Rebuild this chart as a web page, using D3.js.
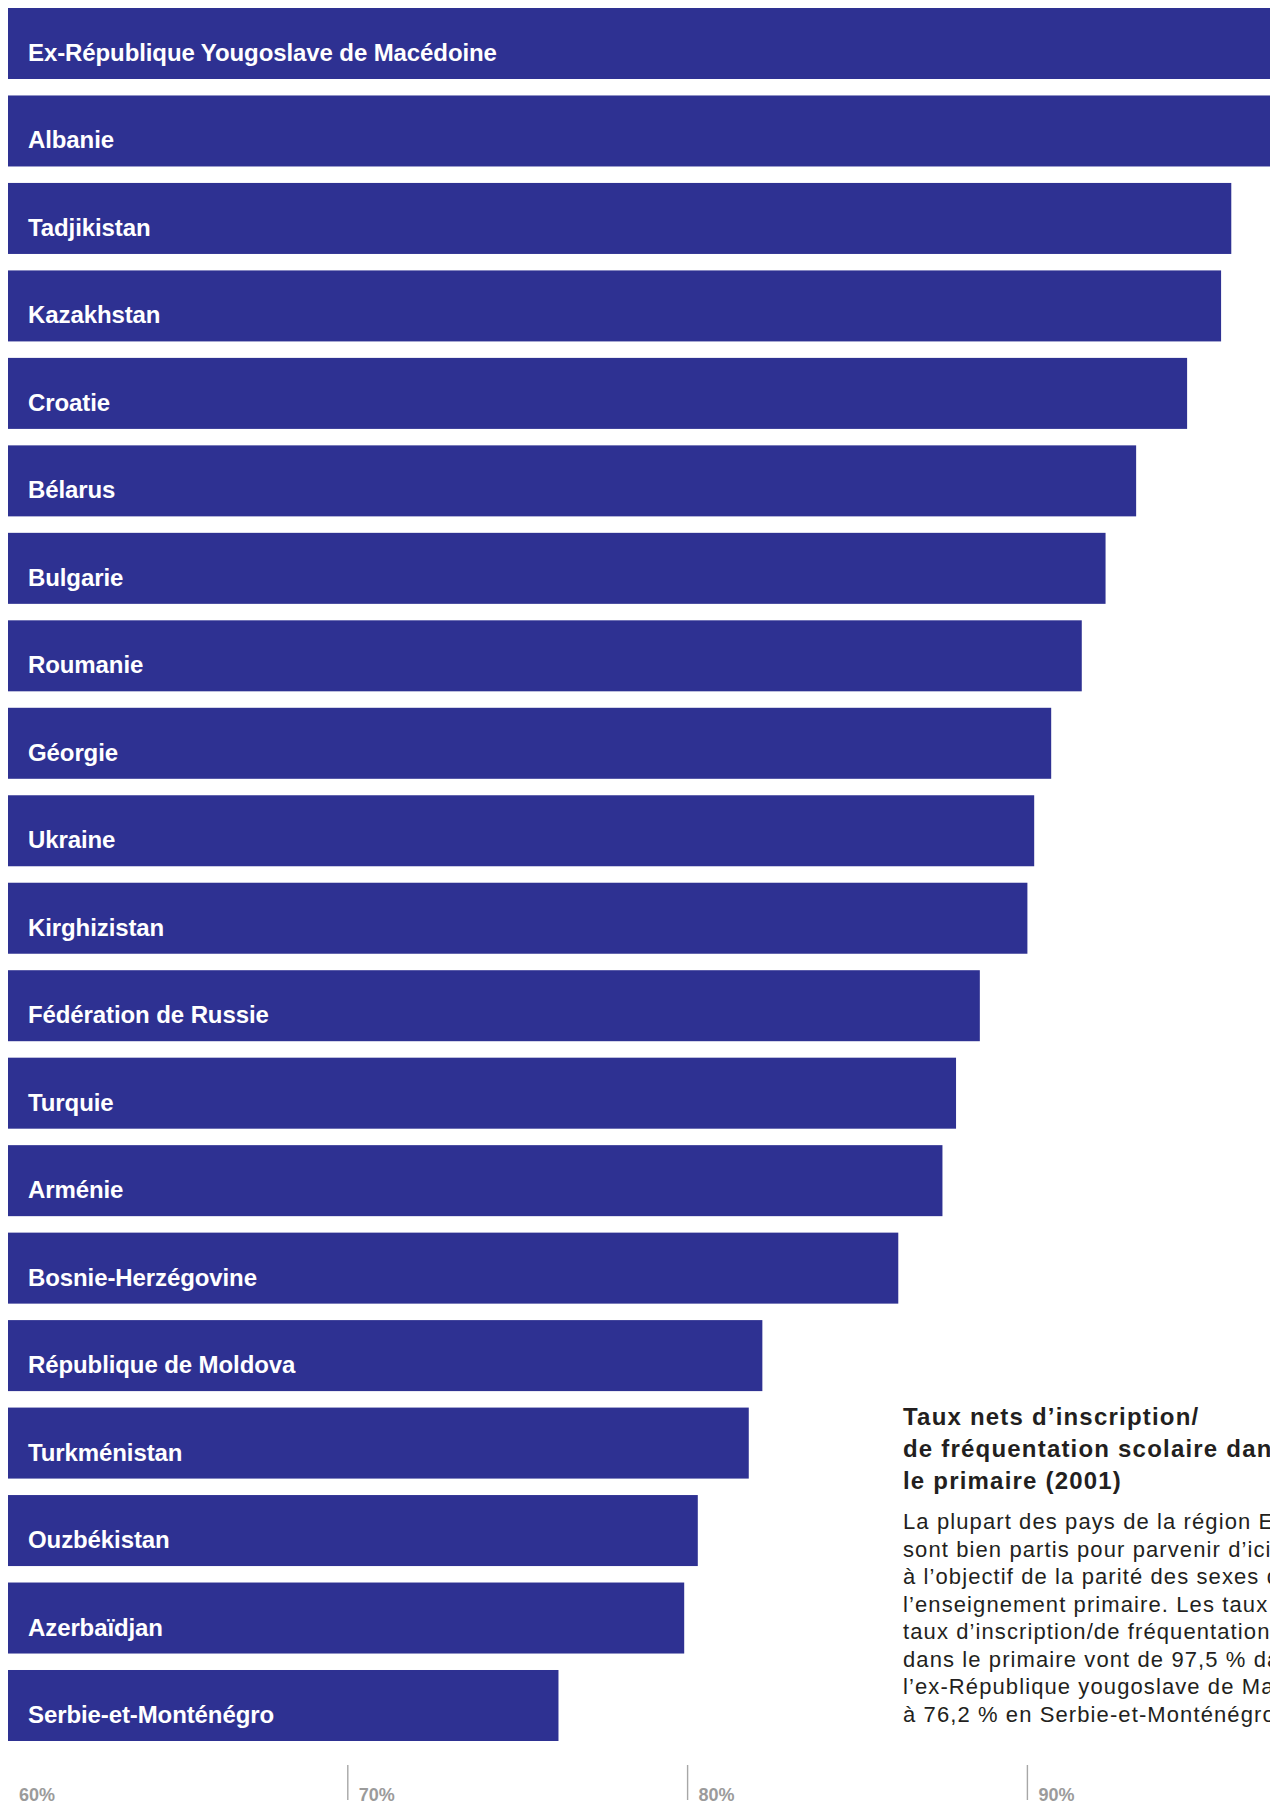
<!DOCTYPE html>
<html>
<head>
<meta charset="utf-8">
<script src="https://cdn.jsdelivr.net/npm/d3@7"></script>
<style>
  html, body { margin: 0; padding: 0; background: #ffffff; }
  svg { display: block; }
</style>
</head>
<body>
<div id="chart"></div>
<script>
const countries = [
  "Ex-République Yougoslave de Macédoine",
  "Albanie",
  "Tadjikistan",
  "Kazakhstan",
  "Croatie",
  "Bélarus",
  "Bulgarie",
  "Roumanie",
  "Géorgie",
  "Ukraine",
  "Kirghizistan",
  "Fédération de Russie",
  "Turquie",
  "Arménie",
  "Bosnie-Herzégovine",
  "République de Moldova",
  "Turkménistan",
  "Ouzbékistan",
  "Azerbaïdjan",
  "Serbie-et-Monténégro"
];
const values = [97.5, 97.3, 96.0, 95.7, 94.7, 93.2, 92.3, 91.6, 90.7, 90.2, 90.0, 88.6, 87.9, 87.5, 86.2, 82.2, 81.8, 80.3, 79.9, 76.2];
const tickValues = [60, 70, 80, 90];
const tickLabels = ["60%", "70%", "80%", "90%"];
const titleLines = [
  "Taux nets d’inscription/",
  "de fréquentation scolaire dans",
  "le primaire (2001)"
];
const bodyLines = [
  "La plupart des pays de la région ECO/CEI",
  "sont bien partis pour parvenir d’ici 2015",
  "à l’objectif de la parité des sexes dans",
  "l’enseignement primaire. Les taux nets de",
  "taux d’inscription/de fréquentation scolaire",
  "dans le primaire vont de 97,5 % dans",
  "l’ex-République yougoslave de Macédoine",
  "à  76,2 % en Serbie-et-Monténégro."
];

const W = 1270, H = 1804;
const FONT = "'Liberation Sans', Arial, Helvetica, sans-serif";
const BAR = "#2e3192";

const svg = d3.select("#chart").append("svg")
  .attr("width", W).attr("height", H)
  .attr("viewBox", `0 0 ${W} ${H}`);

const data = countries.map((c, i) => ({ name: c, value: values[i] }));

const x = d3.scaleLinear().domain([60, 100]).range([8, 1367.2]);
const y = d3.scaleBand().domain(countries).range([8, 1741]).paddingInner(0.1883).paddingOuter(0);

// bars
svg.append("g").selectAll("rect").data(data).join("rect")
  .attr("x", x(60))
  .attr("y", d => y(d.name))
  .attr("width", d => x(d.value) - x(60))
  .attr("height", y.bandwidth())
  .attr("fill", BAR);

// labels inside bars
svg.append("g").selectAll("text").data(data).join("text")
  .attr("x", 28)
  .attr("y", d => y(d.name) + 53)
  .attr("fill", "#ffffff")
  .attr("font-family", FONT)
  .attr("font-weight", "bold")
  .attr("font-size", 24)
  .attr("letter-spacing", -0.1)
  .text(d => d.name);

// axis
const axis = svg.append("g");
const tickData = tickValues.map((v, i) => ({ v, label: tickLabels[i] }));
axis.selectAll("line").data(tickData.filter(d => d.v > x.domain()[0])).join("line")
  .attr("x1", d => x(d.v)).attr("x2", d => x(d.v))
  .attr("y1", 1765).attr("y2", 1800)
  .attr("stroke", "#a7a7a7")
  .attr("stroke-width", 1.4);
axis.selectAll("text").data(tickData).join("text")
  .attr("x", d => x(d.v) + 11)
  .attr("y", 1801)
  .attr("fill", "#9b9b9b")
  .attr("font-family", FONT)
  .attr("font-weight", "bold")
  .attr("font-size", 18)
  .text(d => d.label);

// text block
const tb = svg.append("g");
tb.selectAll("text.title").data(titleLines).join("text")
  .attr("class", "title")
  .attr("x", 903)
  .attr("y", (d, i) => 1425 + i * 32)
  .attr("fill", "#231f20")
  .attr("font-family", FONT)
  .attr("font-weight", "bold")
  .attr("font-size", 24)
  .attr("letter-spacing", 1.2)
  .text(d => d);
tb.selectAll("text.body").data(bodyLines).join("text")
  .attr("class", "body")
  .attr("x", 903)
  .attr("y", (d, i) => 1529 + i * 27.5)
  .attr("fill", "#231f20")
  .attr("font-family", FONT)
  .attr("font-size", 22)
  .attr("letter-spacing", 1.1)
  .text(d => d);
</script>
</body>
</html>
